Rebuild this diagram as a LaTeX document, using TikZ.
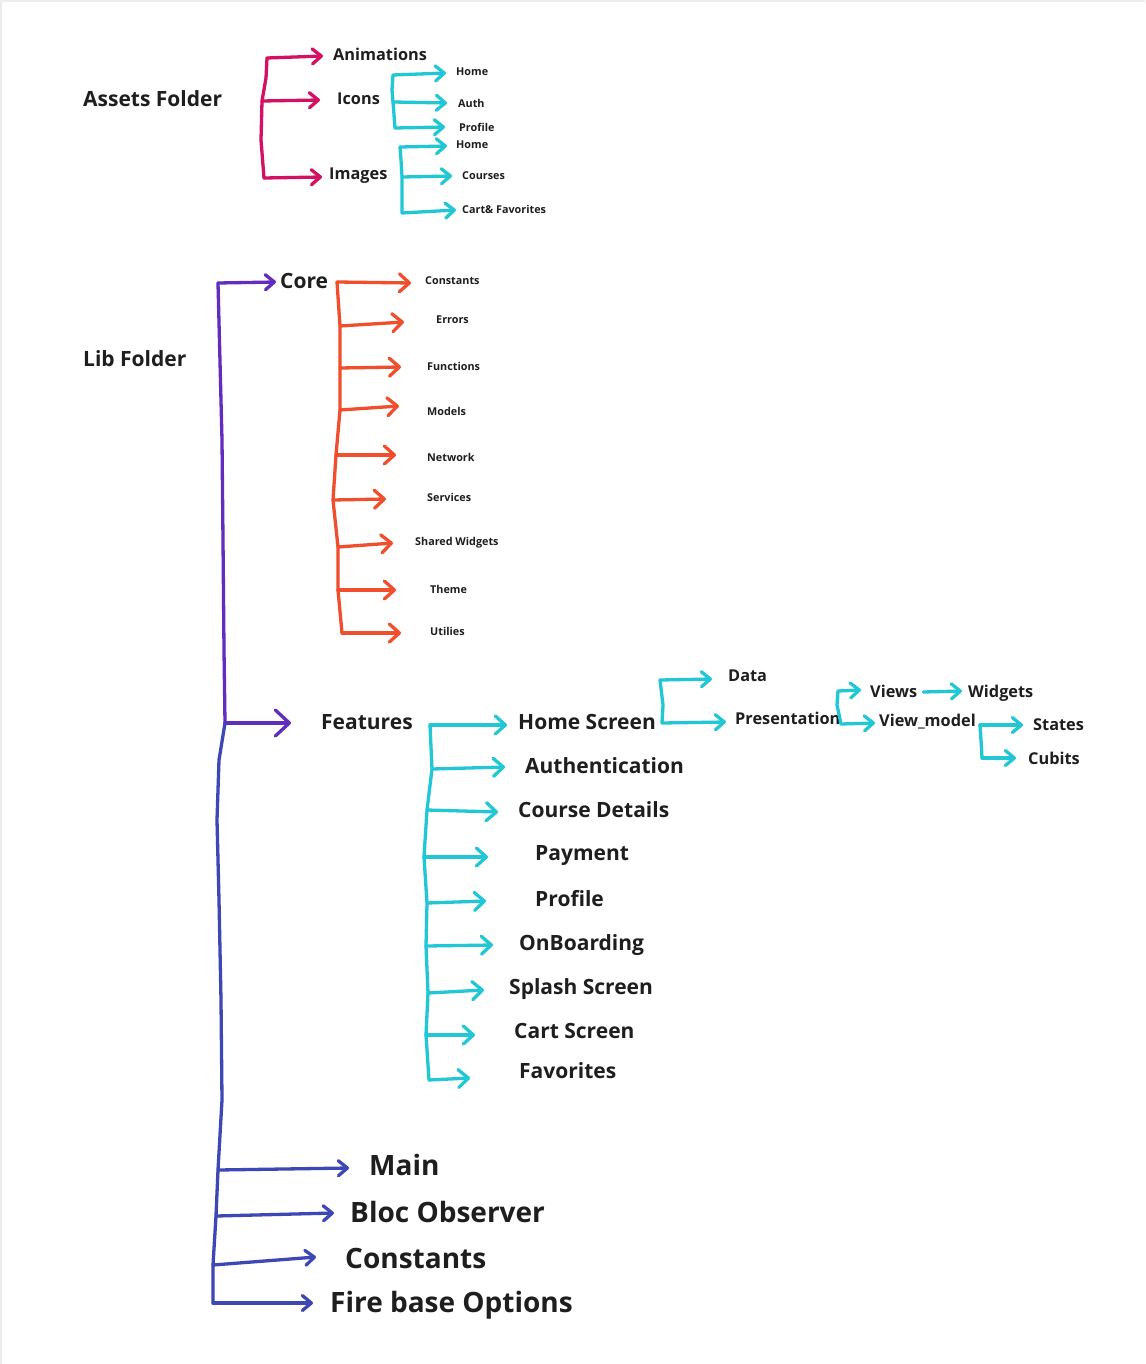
\documentclass[tikz,border=0pt]{standalone}
\usepackage{fontspec}
\setmainfont{Open Sans}
\usetikzlibrary{arrows.meta,calc}

\definecolor{pinkline}{RGB}{212,16,98}
\definecolor{cyanline}{RGB}{33,199,212}
\definecolor{orangeline}{RGB}{240,78,45}
\definecolor{purpleline}{RGB}{98,44,190}
\definecolor{blueline}{RGB}{62,72,180}
\definecolor{inkc}{RGB}{30,30,30}
\definecolor{edgec}{RGB}{236,236,236}

\tikzset{
  lbl/.style={anchor=west, inner sep=0pt, text=inkc},
  hbig/.style={lbl, font=\fontsize{21}{24}\selectfont\bfseries},
  hmid/.style={lbl, font=\fontsize{16.3}{19}\selectfont\bfseries},
  hsmall/.style={lbl, font=\fontsize{10.8}{13}\selectfont\bfseries},
  hhuge/.style={lbl, font=\fontsize{28}{32}\selectfont\bfseries},
  stroke/.style={line width=3.3pt, line cap=round, line join=round},
  twig/.style={stroke, -{Straight Barb[length=9pt,width=15pt,line cap=round,line join=round]}},
  bigtwig/.style={stroke, -{Straight Barb[length=10pt,width=18pt,line cap=round,line join=round]}},
  hugetwig/.style={stroke, -{Straight Barb[length=14pt,width=26pt,line cap=round,line join=round]}},
}

\begin{document}
\begin{tikzpicture}[x=1pt,y=-1pt]
\useasboundingbox (0,0) rectangle (1145,1364);
\fill[white] (0,0) rectangle (1145,1364);
\draw[edgec, line width=2pt] (1,1364) -- (1,1) -- (1145,1);

% ---------- assets folder ----------
\node[hbig] (assets) at (83,99) {Assets Folder};
\node[hmid] (anim) at (333,54) {Animations};
\node[hmid] (icons) at (337,99) {Icons};
\node[hmid] (images) at (329,176) {Images};
\node[hsmall] (ihome) at (456,72) {Home};
\node[hsmall] (iauth) at (458,103) {Auth};
\node[hsmall] (iprof) at (459,127) {Profile};
\node[hsmall] (mhome) at (456,145) {Home};
\node[hsmall] (mcourses) at (462,176) {Courses};
\node[hsmall] (mcart) at (462,209) {Cart\& Favorites};

\coordinate (pa) at (267,58);
\coordinate (pb) at (262,101);
\coordinate (pc) at (264,178);
\draw[stroke, pinkline] (pa) -- (266,78) -- (pb) -- (261,140) -- (pc);
\draw[twig, pinkline] (pa) -- ($(anim.west)+(-10,2)$);
\draw[twig, pinkline] (pb) -- ($(icons.west)+(-17,1)$);
\draw[twig, pinkline] (pc) -- ($(images.west)+(-7,1)$);

\coordinate (ia) at (393,75);
\coordinate (ib) at (393,102);
\coordinate (ic) at (395,128);
\draw[stroke, cyanline] (ia) -- (392,90) -- (ib) -- (ic);
\draw[twig, cyanline] (ia) -- ($(ihome.west)+(-10,1)$);
\draw[twig, cyanline] (ib) -- ($(iauth.west)+(-11,0)$);
\draw[twig, cyanline] (ic) -- ($(iprof.west)+(-14,0)$);

\coordinate (ma) at (400,147);
\coordinate (mb) at (402,177);
\coordinate (mc) at (402,213);
\draw[stroke, cyanline] (ma) -- (401,160) -- (mb) -- (mc);
\draw[twig, cyanline] (ma) -- ($(mhome.west)+(-9,1)$);
\draw[twig, cyanline] (mb) -- ($(mcourses.west)+(-10,0)$);
\draw[twig, cyanline] (mc) -- ($(mcart.west)+(-6,1)$);

% ---------- lib folder ----------
\node[hbig] (lib) at (83,359) {Lib Folder};
\node[hbig] (core) at (280,281) {Core};
\node[hbig] (feat) at (321,722) {Features};

\coordinate (pu1) at (218,283);
\coordinate (pu2) at (225,723);
\draw[stroke, purpleline] (pu1) -- (222,440) -- (223,540) -- (224,650) -- (pu2);
\draw[twig, purpleline] (pu1) -- ($(core.west)+(-4,1)$);
\draw[hugetwig, purpleline] (pu2) -- ($(feat.west)+(-30,1)$);

% core sub-folders
\node[hsmall] (cst) at (425,281) {Constants};
\node[hsmall] (err) at (436,320) {Errors};
\node[hsmall] (fun) at (427,366) {Functions};
\node[hsmall] (mdl) at (427,411) {Models};
\node[hsmall] (net) at (427,457) {Network};
\node[hsmall] (srv) at (427,497) {Services};
\node[hsmall] (shw) at (415,543) {Shared Widgets};
\node[hsmall] (thm) at (430,589) {Theme};
\node[hsmall] (utl) at (430,631) {Utilies};

\coordinate (o1) at (337,282);
\coordinate (o2) at (340,326);
\coordinate (o3) at (340,368);
\coordinate (o4) at (340,410);
\coordinate (o5) at (336,455);
\coordinate (o6) at (333,500);
\coordinate (o7) at (338,547);
\coordinate (o8) at (338,590);
\coordinate (o9) at (342,633);
\draw[stroke, orangeline] (o1) -- (o2) -- (o3) -- (o4) -- (o5) -- (o6) -- (o7) -- (o8) -- (o9);
\draw[bigtwig, orangeline] (o1) -- ($(cst.west)+(-14,2)$);
\draw[bigtwig, orangeline] (o2) -- ($(err.west)+(-32,2)$);
\draw[bigtwig, orangeline] (o3) -- ($(fun.west)+(-26,1)$);
\draw[bigtwig, orangeline] (o4) -- ($(mdl.west)+(-28,-5)$);
\draw[bigtwig, orangeline] (o5) -- ($(net.west)+(-31,-2)$);
\draw[bigtwig, orangeline] (o6) -- ($(srv.west)+(-41,2)$);
\draw[bigtwig, orangeline] (o7) -- ($(shw.west)+(-22,0)$);
\draw[bigtwig, orangeline] (o8) -- ($(thm.west)+(-34,1)$);
\draw[bigtwig, orangeline] (o9) -- ($(utl.west)+(-29,2)$);

% feature modules
\node[hbig] (hs) at (518,722) {Home Screen};
\node[hbig] (au) at (525,766) {Authentication};
\node[hbig] (cd) at (518,810) {Course Details};
\node[hbig] (pay) at (535,856) {Payment};
\node[hbig] (prf) at (535,899) {Profile};
\node[hbig] (onb) at (519,945) {OnBoarding};
\node[hbig] (spl) at (509,989) {Splash Screen};
\node[hbig] (crt) at (514,1031) {Cart Screen};
\node[hbig] (fav) at (519,1071) {Favorites};

\coordinate (f1) at (430,725);
\coordinate (f2) at (432,769);
\coordinate (f3) at (427,810);
\coordinate (f4) at (424,857);
\coordinate (f5) at (427,903);
\coordinate (f6) at (426,946);
\coordinate (f7) at (428,993);
\coordinate (f8) at (426,1035);
\coordinate (f9) at (429,1080);
\draw[stroke, cyanline] (f1) -- (f2) -- (f3) -- (f4) -- (f5) -- (f6) -- (f7) -- (f8) -- (f9);
\draw[bigtwig, cyanline] (f1) -- ($(hs.west)+(-11,3)$);
\draw[bigtwig, cyanline] (f2) -- ($(au.west)+(-20,1)$);
\draw[bigtwig, cyanline] (f3) -- ($(cd.west)+(-20,2)$);
\draw[bigtwig, cyanline] (f4) -- ($(pay.west)+(-47,1)$);
\draw[bigtwig, cyanline] (f5) -- ($(prf.west)+(-49,2)$);
\draw[bigtwig, cyanline] (f6) -- ($(onb.west)+(-26,0)$);
\draw[bigtwig, cyanline] (f7) -- ($(spl.west)+(-25,1)$);
\draw[bigtwig, cyanline] (f8) -- ($(crt.west)+(-39,4)$);
\draw[bigtwig, cyanline] (f9) -- ($(fav.west)+(-49,7)$);

% home screen layers
\node[hmid] (data) at (728,676) {Data};
\node[hmid] (pres) at (735,718) {Presentation};
\node[hmid] (views) at (870,691) {Views};
\node[hmid] (vm) at (879,722) {View\_model};
\node[hmid] (wdg) at (968,693) {Widgets};
\node[hmid] (sts) at (1033,725) {States};
\node[hmid] (cub) at (1028,758) {Cubits};

\coordinate (hA) at (660,680);
\coordinate (hB) at (662,723);
\draw[stroke, cyanline] (hA) -- (663,705) -- (hB);
\draw[twig, cyanline] (hA) -- ($(data.west)+(-16,3)$);
\draw[twig, cyanline] (hB) -- ($(pres.west)+(-9,4)$);

\coordinate (pA) at (838,691);
\coordinate (pB) at (841,724);
\draw[stroke, cyanline] (pA) -- (837,705) -- (pB);
\draw[twig, cyanline] (pA) -- ($(views.west)+(-9,-1)$);
\draw[twig, cyanline] (pB) -- ($(vm.west)+(-4,1)$);

\draw[twig, cyanline] ($(views.east)+(6,1)$) -- ($(wdg.west)+(-6,-2)$);

\coordinate (vA) at (980,725);
\coordinate (vB) at (982,758);
\draw[stroke, cyanline] (vA) -- (981,740) -- (vB);
\draw[twig, cyanline] (vA) -- ($(sts.west)+(-10,0)$);
\draw[twig, cyanline] (vB) -- ($(cub.west)+(-12,0)$);

% top-level lib files
\node[hhuge] (mn) at (369,1165) {Main};
\node[hhuge] (bo) at (350,1212) {Bloc Observer};
\node[hhuge] (cn) at (345,1258) {Constants};
\node[hhuge] (fo) at (330,1305) {Fire base Options};

\coordinate (bl1) at (218,1170);
\coordinate (bl2) at (216,1216);
\coordinate (bl3) at (213,1265);
\coordinate (bl4) at (213,1303);
\draw[stroke, blueline] (pu2) -- (219,760) -- (217,820) -- (219,900) -- (221,1000) -- (222,1100) -- (bl1) -- (bl2) -- (bl3) -- (bl4);
\draw[twig, blueline] (bl1) -- ($(mn.west)+(-20,3)$);
\draw[twig, blueline] (bl2) -- ($(bo.west)+(-16,1)$);
\draw[twig, blueline] (bl3) -- ($(cn.west)+(-29,-1)$);
\draw[twig, blueline] (bl4) -- ($(fo.west)+(-17,-2)$);
\end{tikzpicture}
\end{document}
